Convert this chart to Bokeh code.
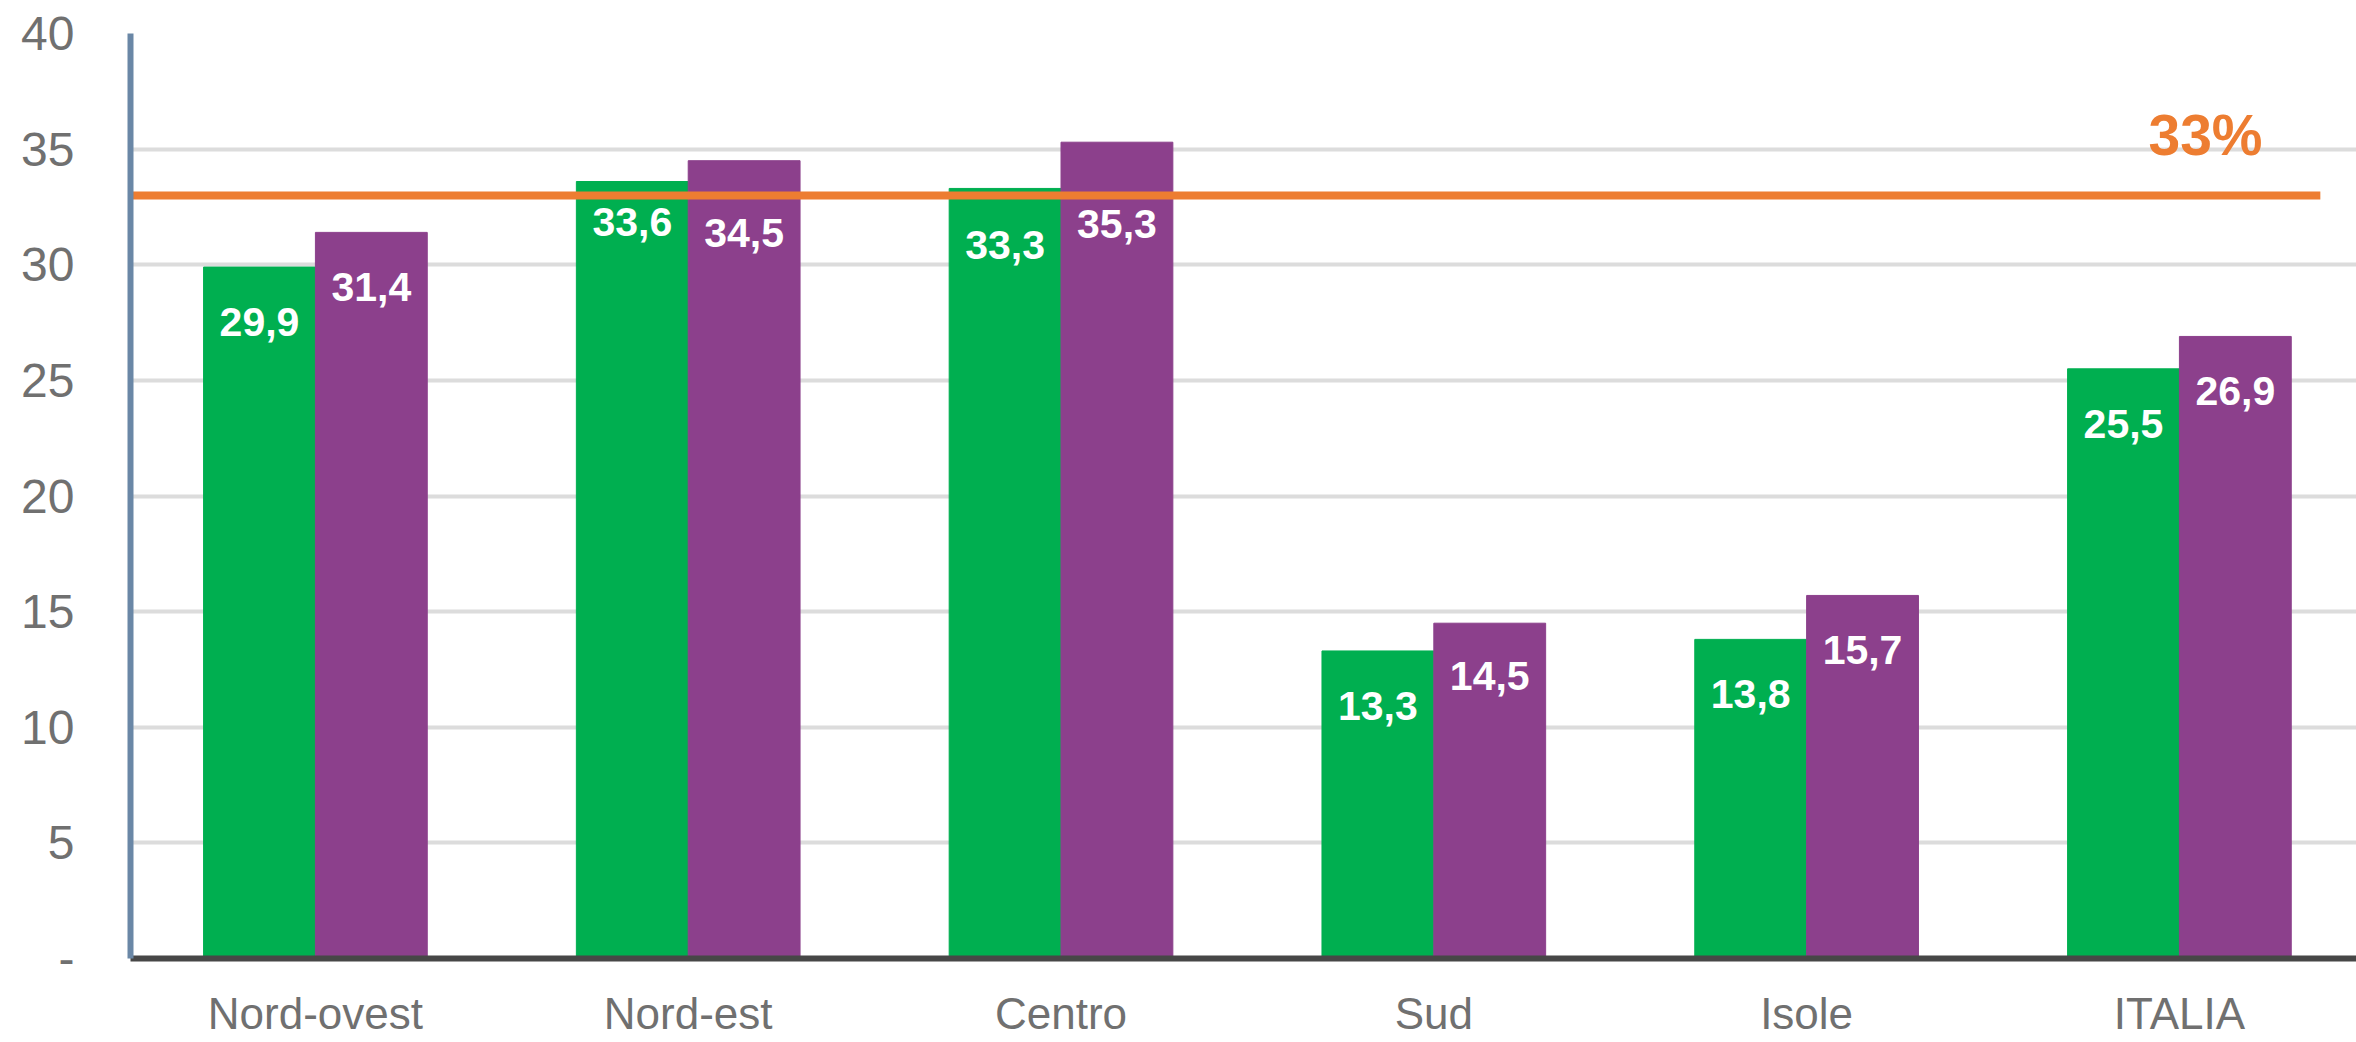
from bokeh.plotting import figure
from bokeh.models import ColumnDataSource, Range1d, FixedTicker, LabelSet, Label
from bokeh.core.properties import value
from bokeh.transform import dodge
from bokeh.embed import file_html
from bokeh.resources import INLINE

# ---- data ----
regions = ["Nord-ovest", "Nord-est", "Centro", "Sud", "Isole", "ITALIA"]
series_green = [29.9, 33.6, 33.3, 13.3, 13.8, 25.5]
series_purple = [31.4, 34.5, 35.3, 14.5, 15.7, 26.9]
threshold = 33
threshold_label = "33%"
y_ticks = [0, 5, 10, 15, 20, 25, 30, 35, 40]

# label drop below bar top (screen px, style)
label_drop_green = [55, 40, 57, 55, 55, 55]
label_drop_purple = [55, 72, 82, 53, 55, 55]

GREEN = "#00AF50"
PURPLE = "#8C408C"
ORANGE = "#ED7D31"

idx = list(range(len(regions)))
src = ColumnDataSource(dict(
    idx=idx,
    g=series_green,
    p=series_purple,
    g_lbl=[f"{v:.1f}".replace(".", ",") for v in series_green],
    p_lbl=[f"{v:.1f}".replace(".", ",") for v in series_purple],
    g_off=[-d for d in label_drop_green],
    p_off=[-d for d in label_drop_purple],
))

p = figure(width=2356, height=1042, output_backend="svg", toolbar_location=None,
           x_range=Range1d(-0.496, 5.475), y_range=Range1d(0, 40),
           min_border_left=130, min_border_right=0, min_border_top=33, min_border_bottom=84)
p.outline_line_color = None
p.background_fill_color = "white"
p.border_fill_color = "white"

p.vbar(x=dodge("idx", -0.15, range=p.x_range), top="g", width=0.3, source=src,
       fill_color=GREEN, line_color=GREEN)
p.vbar(x=dodge("idx", 0.15, range=p.x_range), top="p", width=0.3, source=src,
       fill_color=PURPLE, line_color=PURPLE)

# threshold line
p.segment(x0=[-0.51], x1=[5.378], y0=[threshold], y1=[threshold],
          line_color=ORANGE, line_width=8, line_cap="butt")
p.add_layout(Label(x=5.07, y=threshold, text=threshold_label, y_offset=60,
                   text_align="center", text_baseline="alphabetic",
                   text_color=ORANGE, text_font="Liberation Sans",
                   text_font_style="bold", text_font_size="57px"))

for col, lbl, off, yo in (("g", "g_lbl", -0.15, "g_off"), ("p", "p_lbl", 0.15, "p_off")):
    p.add_layout(LabelSet(x=dodge("idx", off, range=p.x_range), y=col, text=lbl, source=src,
                          y_offset=yo, text_align="center", text_baseline="middle",
                          text_color="white", text_font=value("Liberation Sans"),
                          text_font_style="bold", text_font_size="41px"))

# grid
p.xgrid.grid_line_color = None
p.ygrid.grid_line_color = "#DCDCDC"
p.ygrid.grid_line_width = 4
p.ygrid.ticker = FixedTicker(ticks=y_ticks[1:])

# y axis
p.yaxis.ticker = FixedTicker(ticks=y_ticks)
p.yaxis.major_label_overrides = {0: "-"}
p.yaxis.axis_line_color = "#6A87A6"
p.yaxis.axis_line_width = 6
p.yaxis.major_tick_line_color = None
p.yaxis.minor_tick_line_color = None
p.yaxis.major_tick_in = 0
p.yaxis.major_tick_out = 0
p.yaxis.major_label_standoff = 56
p.yaxis.major_label_text_font = "Liberation Sans"
p.yaxis.major_label_text_font_size = "48px"
p.yaxis.major_label_text_color = "#707070"

# x axis
p.xaxis.ticker = FixedTicker(ticks=idx)
p.xaxis.major_label_overrides = {i: r for i, r in zip(idx, regions)}
p.xaxis.axis_line_color = "#474747"
p.xaxis.axis_line_width = 6
p.xaxis.major_tick_line_color = None
p.xaxis.minor_tick_line_color = None
p.xaxis.major_tick_in = 0
p.xaxis.major_tick_out = 0
p.xaxis.major_label_standoff = 30
p.xaxis.major_label_text_font = "Liberation Sans"
p.xaxis.major_label_text_font_size = "44px"
p.xaxis.major_label_text_color = "#707070"

open("out.html", "w").write(file_html(p, INLINE))
